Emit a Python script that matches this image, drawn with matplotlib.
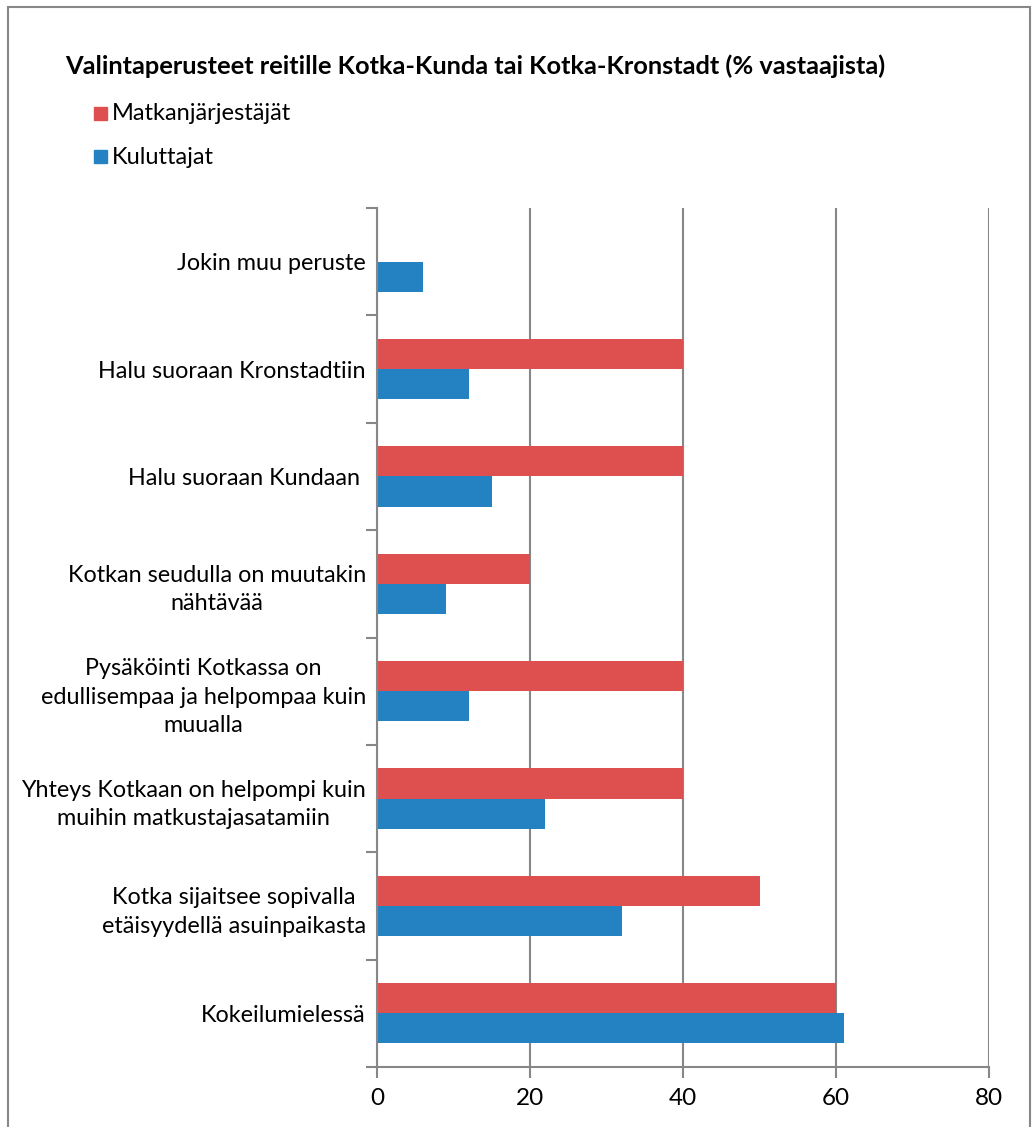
import matplotlib
matplotlib.use("Agg")
import matplotlib.pyplot as plt
import numpy as np
from matplotlib.patches import Rectangle

# Categories listed bottom-to-top
categories = [
    "Kokeilumielessä",
    "Kotka sijaitsee sopivalla\netäisyydellä asuinpaikasta",
    "Yhteys Kotkaan on helpompi kuin\nmuihin matkustajasatamiin",
    "Pysäköinti Kotkassa on\nedullisempaa ja helpompaa kuin\nmuualla",
    "Kotkan seudulla on muutakin\nnähtävää",
    "Halu suoraan Kundaan ",
    "Halu suoraan Kronstadtiin",
    "Jokin muu peruste",
]
matkanjarjestajat = [60, 50, 40, 40, 20, 40, 40, 0]
kuluttajat = [61, 32, 22, 12, 9, 15, 12, 6]
xticks = [0, 20, 40, 60, 80]

title = "Valintaperusteet reitille Kotka-Kunda tai Kotka-Kronstadt (% vastaajista)"
series_names = ["Matkanjärjestäjät", "Kuluttajat"]
red = "#DE5050"
blue = "#2482C3"
grey = "#878787"

plt.rcParams["font.family"] = ["Lato", "DejaVu Sans"]

fig = plt.figure(figsize=(10.33, 11.27), dpi=100)

# chart frame
fig.patches.append(Rectangle((8 / 1033, -0.01), (1030 - 8) / 1033, 1 - 7 / 1127 + 0.01,
                             transform=fig.transFigure, fill=False,
                             edgecolor=grey, linewidth=1.5))

ax = fig.add_axes([377 / 1033, 1 - 1067 / 1127, (989 - 377) / 1033, (1067 - 208) / 1127])

y = np.arange(len(categories))
h = 0.28
ax.barh(y + h / 2, matkanjarjestajat, height=h, color=red, zorder=3)
ax.barh(y - h / 2, kuluttajat, height=h, color=blue, zorder=3)

ax.set_xlim(0, 80)
ax.set_ylim(-0.5, len(categories) - 0.5)
ax.set_xticks(xticks)
ax.set_xticklabels([str(v) for v in xticks], fontsize=17.5)
ax.tick_params(axis="x", direction="out", length=8, width=1.5, color=grey, pad=7)

ax.set_yticks(y)
ax.set_yticklabels(categories, fontsize=16.8, multialignment="center", linespacing=1.45)
ax.tick_params(axis="y", which="major", length=0, pad=8)
ax.set_yticks(np.arange(-0.5, len(categories), 1.0), minor=True)
ax.tick_params(axis="y", which="minor", direction="out", length=8, width=1.5, color=grey)

ax.grid(axis="x", color=grey, linewidth=1.5, zorder=0)
for s in ["top", "right"]:
    ax.spines[s].set_visible(False)
for s in ["left", "bottom"]:
    ax.spines[s].set_color(grey)
    ax.spines[s].set_linewidth(1.5)
    ax.spines[s].set_zorder(4)

fig.text(65 / 1033, 1 - 66 / 1127, title, fontsize=18.3, fontweight="bold",
         va="center", ha="left")

for i, (name, col) in enumerate(zip(series_names, [red, blue])):
    yc = 1 - (113 + 44 * i) / 1127
    fig.patches.append(Rectangle((94 / 1033, yc - 6.5 / 1127), 13 / 1033, 13 / 1127,
                                 transform=fig.transFigure, color=col))
    fig.text(112 / 1033, yc, name, fontsize=17, va="center", ha="left")

fig.savefig("out.png", dpi=100)
